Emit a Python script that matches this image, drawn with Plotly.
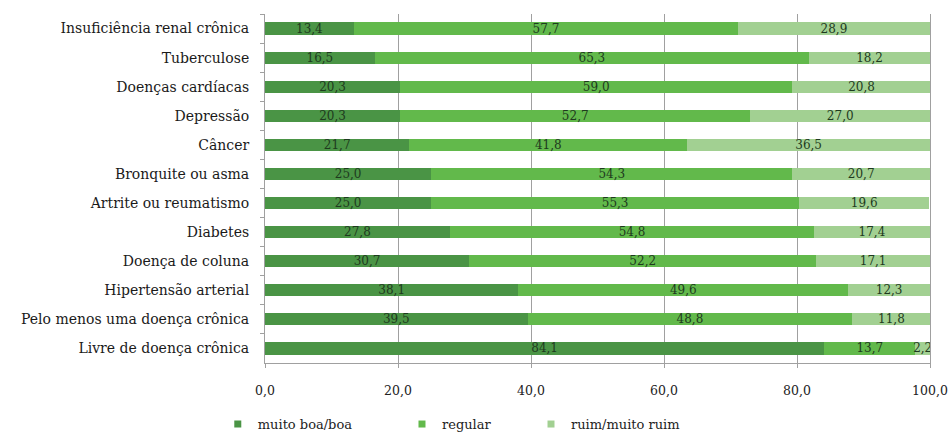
import plotly.graph_objects as go

categories = [
    "Insuficiência renal crônica", "Tuberculose", "Doenças cardíacas", "Depressão",
    "Câncer", "Bronquite ou asma", "Artrite ou reumatismo", "Diabetes",
    "Doença de coluna", "Hipertensão arterial", "Pelo menos uma doença crônica",
    "Livre de doença crônica",
]
muito_boa = [13.4, 16.5, 20.3, 20.3, 21.7, 25.0, 25.0, 27.8, 30.7, 38.1, 39.5, 84.1]
regular = [57.7, 65.3, 59.0, 52.7, 41.8, 54.3, 55.3, 54.8, 52.2, 49.6, 48.8, 13.7]
ruim = [28.9, 18.2, 20.8, 27.0, 36.5, 20.7, 19.6, 17.4, 17.1, 12.3, 11.8, 2.2]
series_names = ["muito boa/boa", "regular", "ruim/muito ruim"]
x_ticks = [0, 20, 40, 60, 80, 100]

colors = ["#4a9445", "#62b94b", "#a2d092"]
FONT = "DejaVu Serif"

fig = go.Figure()
for vals, name, col in zip([muito_boa, regular, ruim], series_names, colors):
    fig.add_trace(go.Bar(
        y=categories, x=vals, orientation="h", name=name,
        marker=dict(color=col, line=dict(width=0)),
        text=vals, texttemplate="%{x:.1f}", textposition="inside",
        insidetextanchor="middle", textangle=0,
        textfont=dict(family=FONT, size=12, color="#1e3a1e"),
        showlegend=False, hoverinfo="skip",
    ))

legend_ids = ["legend", "legend2", "legend3"]
legend_x = [-0.071, 0.206, 0.40]
for name, col, lid in zip(series_names, colors, legend_ids):
    fig.add_trace(go.Scatter(
        x=[None], y=[None], mode="markers", name=name,
        marker=dict(symbol="square", size=7, color=col),
        showlegend=True, legend=lid,
    ))

legend_common = dict(orientation="h", yanchor="middle", y=-0.175, xanchor="left",
                     font=dict(family=FONT, size=13, color="#222"),
                     bgcolor="rgba(0,0,0,0)", borderwidth=0)

layout_legends = {}
for lid, lx in zip(legend_ids, legend_x):
    layout_legends[lid] = dict(legend_common, x=lx)

fig.update_layout(
    barmode="stack",
    bargap=0.58,
    width=949, height=432,
    margin=dict(l=265, r=19, t=14, b=69, autoexpand=False),
    plot_bgcolor="white", paper_bgcolor="white",
    separators=",.",
    font=dict(family=FONT, size=12, color="#222"),
    uniformtext=dict(minsize=8, mode="show"),
    xaxis=dict(
        range=[0, 100], tickvals=x_ticks, tickformat=".1f",
        showgrid=True, gridcolor="#a0a0a0", gridwidth=1,
        showline=True, linecolor="#a0a0a0", linewidth=1,
        ticks="outside", ticklen=4, tickcolor="#a0a0a0",
        ticklabelstandoff=12, ticklabeloverflow="allow",
        tickfont=dict(family=FONT, size=12.5, color="#222"),
        zeroline=False, fixedrange=True, automargin=False,
    ),
    yaxis=dict(
        autorange="reversed", showline=True, linecolor="#a0a0a0", linewidth=1,
        mirror=True,
        ticks="outside", ticklen=4, tickcolor="#a0a0a0", tickson="boundaries",
        ticklabelstandoff=12,
        tickfont=dict(family=FONT, size=14, color="#1a1a1a"),
        showgrid=False, fixedrange=True, automargin=False,
    ),
    **layout_legends,
)

fig.write_html(
    "out.html",
    config={"displayModeBar": False},
    post_script="document.body.style.margin='0';document.body.style.overflow='hidden';",
)
